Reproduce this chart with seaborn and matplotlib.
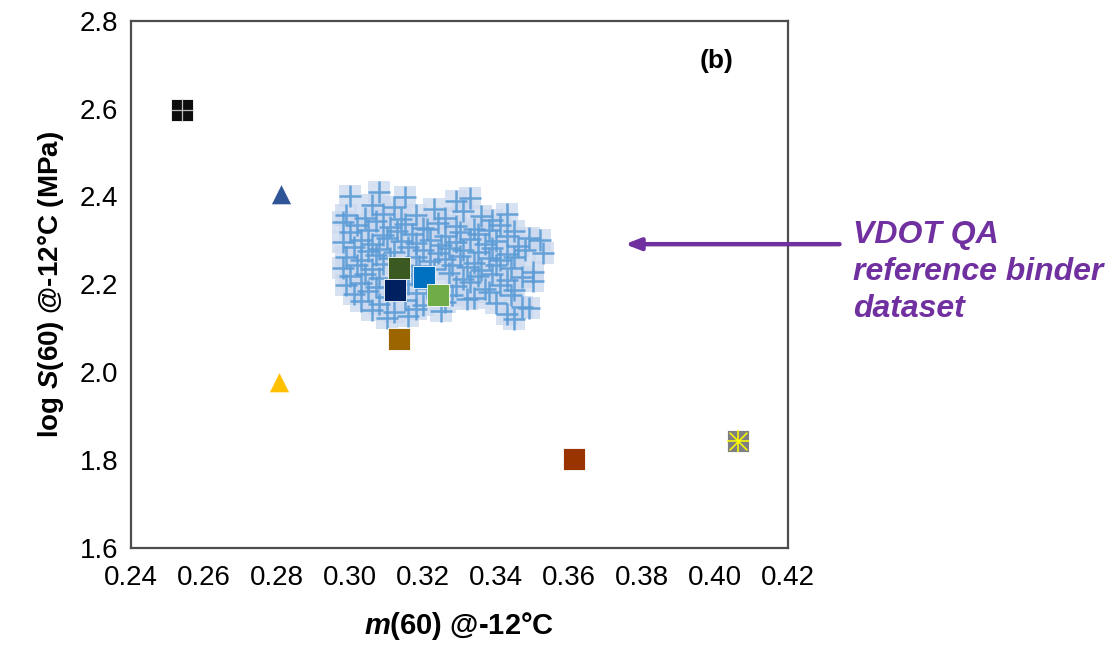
import matplotlib
matplotlib.use("Agg")
import matplotlib.pyplot as plt
import seaborn as sns
import pandas as pd

# VDOT QA reference binder dataset: m(60) and log S(60) at -12 °C
ref_m = [
    0.300, 0.308, 0.315, 0.329, 0.333,
    0.306, 0.312, 0.323, 0.331, 0.343,
    0.299, 0.304, 0.309, 0.314, 0.318, 0.326, 0.336, 0.339,
    0.298, 0.302, 0.307, 0.311, 0.315, 0.320, 0.324, 0.329, 0.334, 0.341, 0.345,
    0.300, 0.305, 0.309, 0.313, 0.317, 0.321, 0.326, 0.330, 0.335, 0.338, 0.343, 0.349,
    0.298, 0.303, 0.306, 0.310, 0.314, 0.318, 0.322, 0.325, 0.329, 0.333, 0.337, 0.340, 0.346, 0.352,
    0.301, 0.305, 0.308, 0.312, 0.316, 0.320, 0.324, 0.327, 0.331, 0.335, 0.339, 0.343, 0.348,
    0.299, 0.303, 0.307, 0.311, 0.318, 0.322, 0.326, 0.330, 0.334, 0.338, 0.341, 0.345, 0.353,
    0.298, 0.302, 0.306, 0.309, 0.319, 0.323, 0.328, 0.332, 0.336, 0.340, 0.344, 0.350,
    0.300, 0.304, 0.308, 0.317, 0.327, 0.331, 0.335, 0.339, 0.343, 0.347,
    0.299, 0.303, 0.307, 0.316, 0.321, 0.329, 0.333, 0.337, 0.341, 0.345, 0.350,
    0.301, 0.305, 0.310, 0.318, 0.328, 0.334, 0.338, 0.344,
    0.303, 0.308, 0.315, 0.320, 0.326, 0.332, 0.340, 0.347,
    0.306, 0.312, 0.318, 0.325, 0.343, 0.349,
    0.310, 0.316, 0.345,
]
ref_logS = [
    2.402, 2.411, 2.399, 2.389, 2.397,
    2.381, 2.376, 2.372, 2.366, 2.359,
    2.358, 2.352, 2.361, 2.349, 2.357, 2.351, 2.355, 2.346,
    2.342, 2.335, 2.344, 2.331, 2.338, 2.329, 2.340, 2.333, 2.327, 2.336, 2.322,
    2.318, 2.324, 2.312, 2.321, 2.315, 2.326, 2.311, 2.319, 2.314, 2.323, 2.309, 2.306,
    2.296, 2.302, 2.291, 2.305, 2.298, 2.293, 2.301, 2.289, 2.297, 2.304, 2.292, 2.299, 2.287, 2.302,
    2.284, 2.276, 2.281, 2.273, 2.286, 2.279, 2.271, 2.283, 2.277, 2.274, 2.282, 2.268, 2.279,
    2.262, 2.255, 2.266, 2.259, 2.263, 2.252, 2.258, 2.265, 2.249, 2.261, 2.256, 2.263, 2.271,
    2.238, 2.244, 2.236, 2.247, 2.241, 2.235, 2.243, 2.239, 2.232, 2.245, 2.237, 2.228,
    2.219, 2.224, 2.215, 2.221, 2.226, 2.212, 2.218, 2.223, 2.209, 2.217,
    2.198, 2.203, 2.195, 2.201, 2.192, 2.197, 2.205, 2.189, 2.199, 2.186, 2.208,
    2.178, 2.184, 2.172, 2.181, 2.175, 2.169, 2.183, 2.176,
    2.161, 2.155, 2.164, 2.152, 2.159, 2.166, 2.158, 2.149,
    2.141, 2.136, 2.145, 2.139, 2.133, 2.147,
    2.124, 2.129, 2.121,
]

# Individual binders
binder_m = [0.254, 0.281, 0.2805, 0.3134, 0.3123, 0.3203, 0.3242, 0.3134, 0.3614, 0.4064]
binder_logS = [2.597, 2.406, 1.977, 2.238, 2.186, 2.217, 2.175, 2.075, 1.802, 1.843]
binder_marker = ["s", "^", "^", "s", "s", "s", "s", "s", "s", "s"]
binder_color = ["#0d0d0d", "#2f5597", "#ffc000", "#3b5a22", "#002060",
                "#0070c0", "#70ad47", "#9c6500", "#993300", "#7f7f7f"]

x_ticks = [0.24, 0.26, 0.28, 0.30, 0.32, 0.34, 0.36, 0.38, 0.40, 0.42]
y_ticks = [1.6, 1.8, 2.0, 2.2, 2.4, 2.6, 2.8]

sns.set_style("white")
plt.rcParams["font.family"] = ["Liberation Sans", "DejaVu Sans"]
plt.rcParams["text.color"] = "black"
plt.rcParams["axes.labelcolor"] = "black"
plt.rcParams["mathtext.fontset"] = "custom"
plt.rcParams["mathtext.it"] = "Liberation Sans:italic:bold"
plt.rcParams["mathtext.rm"] = "Liberation Sans:bold"

fig = plt.figure(figsize=(11.09, 6.52), dpi=100)
ax = fig.add_axes([0.1181, 0.1595, 0.5925, 0.8088])

ref_df = pd.DataFrame({"m": ref_m, "logS": ref_logS})

# pale square backgrounds, then the plus signs
sns.scatterplot(data=ref_df, x="m", y="logS", ax=ax, marker="s", s=250,
                color="#c9d7ee", alpha=0.75, linewidth=0, zorder=2)
sns.scatterplot(data=ref_df, x="m", y="logS", ax=ax, marker="+", s=260,
                color="#5b9bd5", linewidth=1.8, alpha=0.9, zorder=3)

bdf = pd.DataFrame({"m": binder_m, "logS": binder_logS,
                    "marker": binder_marker, "color": binder_color})
for _, r in bdf.iterrows():
    size = 250 if r["marker"] == "s" else 220
    sns.scatterplot(x=[r["m"]], y=[r["logS"]], ax=ax, marker=r["marker"], s=size,
                    color=r["color"], edgecolor="white", linewidth=0.6, zorder=5)

# cross inside the black square, asterisk inside the grey square
sns.scatterplot(x=[binder_m[0]], y=[binder_logS[0]], ax=ax, marker="+", s=250,
                color="#bfbfbf", linewidth=0.9, zorder=6)
sns.scatterplot(x=[binder_m[9]], y=[binder_logS[9]], ax=ax, marker="+", s=230,
                color="#ffff00", linewidth=1.1, zorder=6)
sns.scatterplot(x=[binder_m[9]], y=[binder_logS[9]], ax=ax, marker="x", s=160,
                color="#ffff00", linewidth=1.1, zorder=6)

ax.set_xlim(0.24, 0.42)
ax.set_ylim(1.6, 2.8)
ax.set_xticks(x_ticks)
ax.set_xticklabels([f"{v:.2f}" for v in x_ticks])
ax.set_yticks(y_ticks)
ax.set_yticklabels([f"{v:.1f}" for v in y_ticks])
ax.tick_params(axis="both", length=0, labelsize=20, colors="#000000")
ax.tick_params(axis="x", pad=12)
ax.tick_params(axis="y", pad=9)

for sp in ax.spines.values():
    sp.set_color("#4d4d4d")
    sp.set_linewidth(1.6)

ax.set_xlabel(r"$m$(60) @-12°C", fontsize=21, fontweight="bold", labelpad=14)
ax.set_ylabel(r"log $S$(60) @-12°C (MPa)", fontsize=20, fontweight="bold", labelpad=10)

ax.text(0.4005, 2.709, "(b)", fontsize=19, fontweight="bold", ha="center", va="center")

purple = "#7030a0"
fig.text(0.769, 0.583, "VDOT QA\nreference binder\ndataset", color=purple,
         fontsize=23, fontweight="bold", style="italic", ha="left", va="center",
         linespacing=1.3)
ax.annotate("", xy=(0.5635, 0.6255), xycoords="figure fraction",
            xytext=(0.757, 0.6255), textcoords="figure fraction",
            arrowprops=dict(arrowstyle="-|>,head_length=0.9,head_width=0.35",
                            color=purple, lw=3.2, shrinkA=0, shrinkB=0),
            annotation_clip=False)

fig.savefig("out.png", dpi=100)
